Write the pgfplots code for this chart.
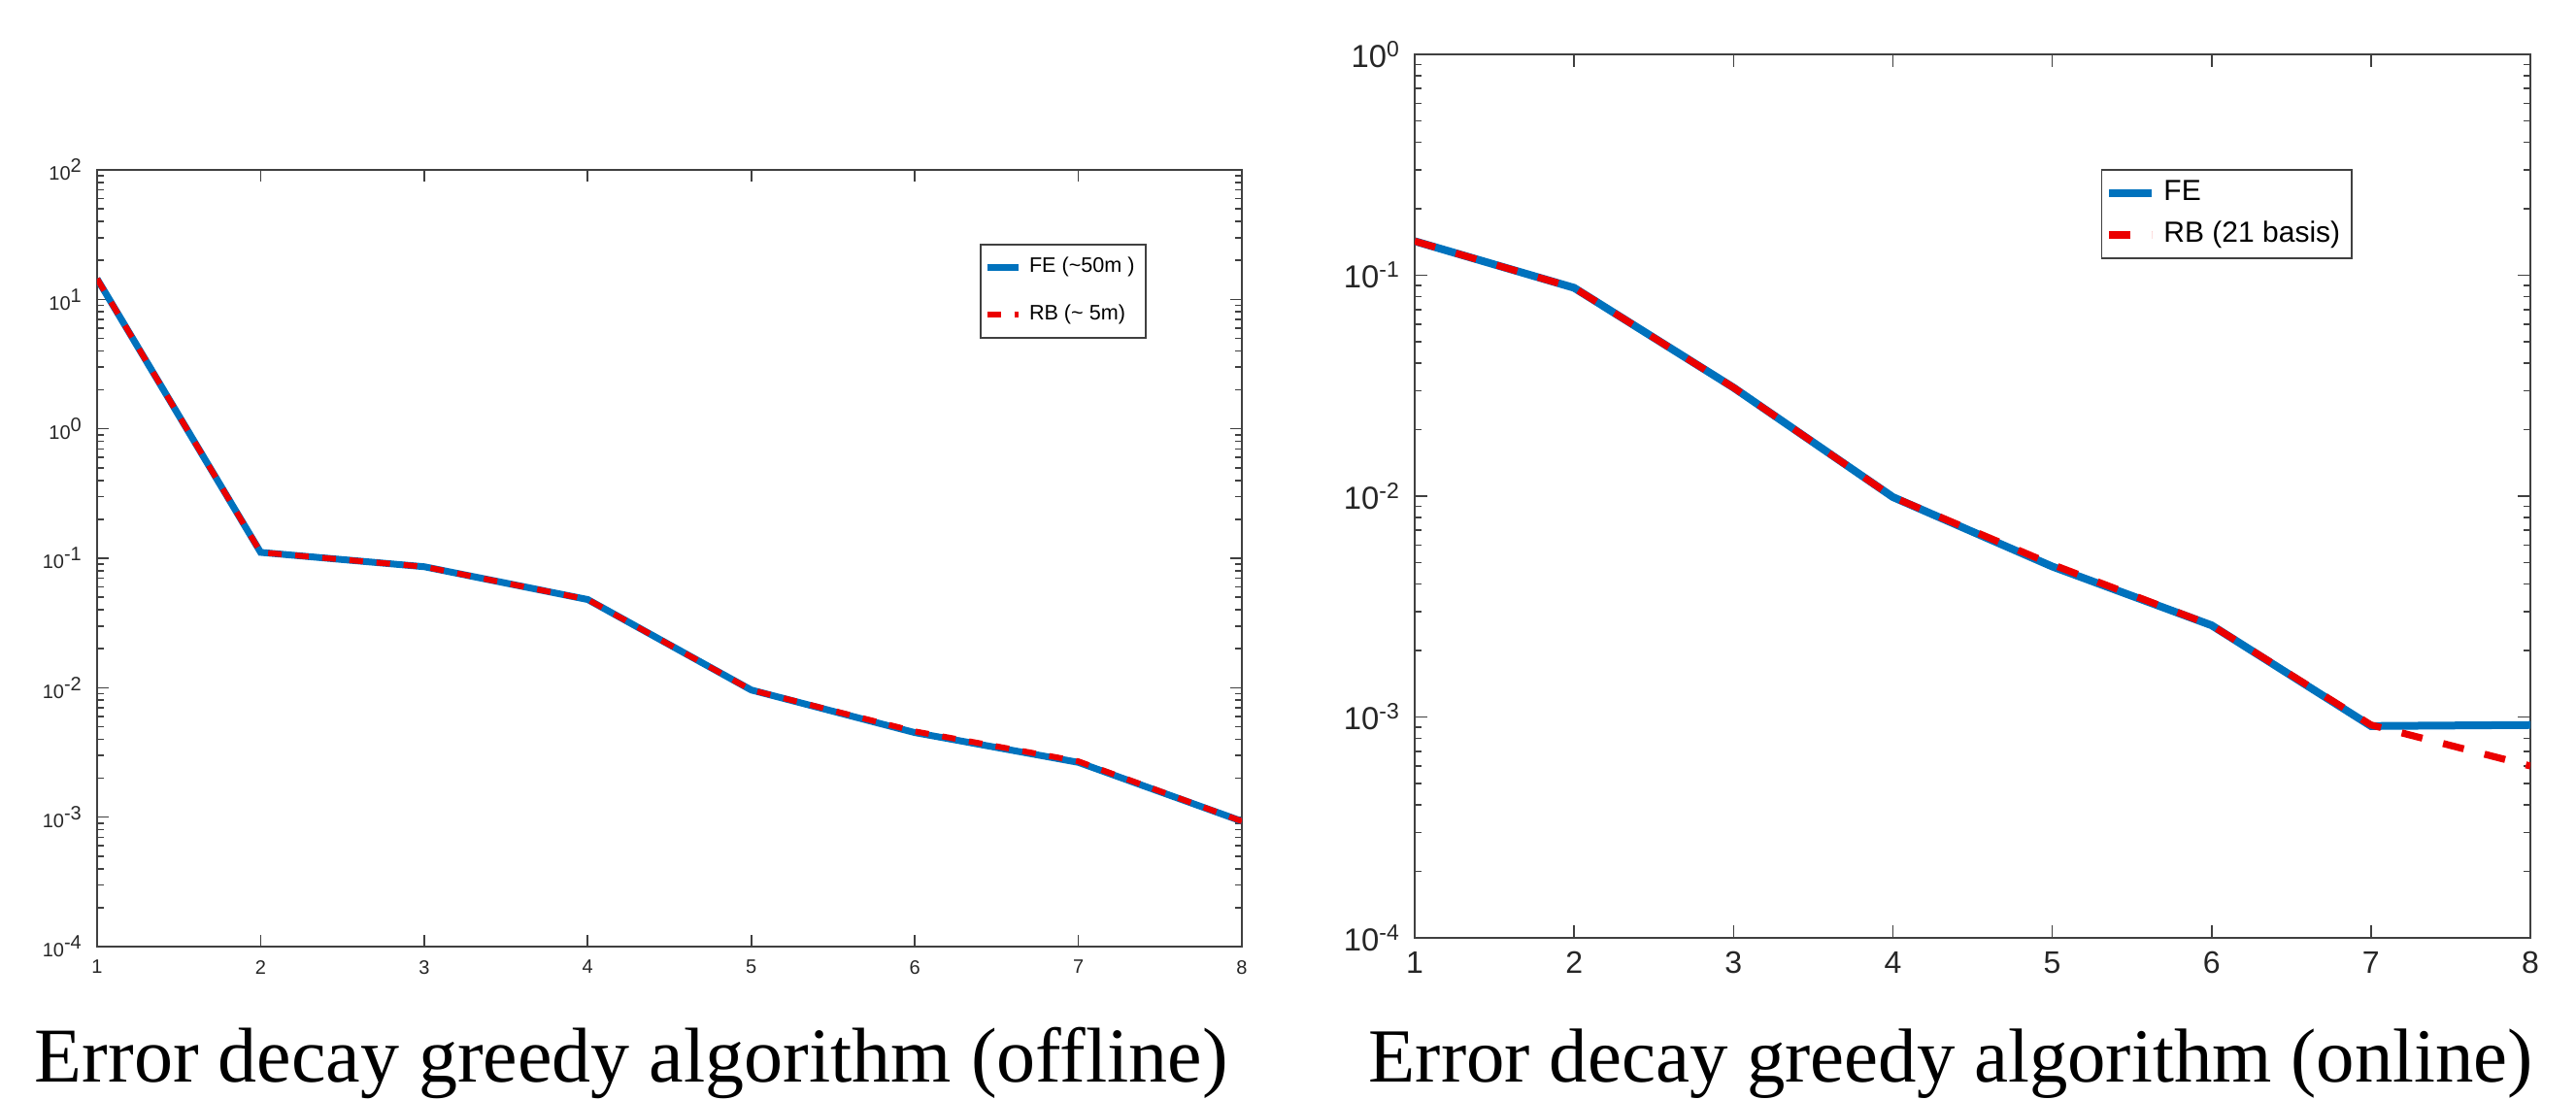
\documentclass[border=0pt]{standalone}
\usepackage{fontspec}
\setmainfont{Liberation Serif}
\setsansfont{Liberation Sans}
\usepackage{pgfplots}
\pgfplotsset{compat=1.18}
\definecolor{mblue}{RGB}{0,114,189}
\definecolor{mred}{RGB}{235,0,0}
\begin{document}
\begin{tikzpicture}
\useasboundingbox (0,0) rectangle (663.25pt,283.25pt);
% ---------------- left axis ----------------
\begin{axis}[
  at={(25pt,39.5pt)}, anchor=south west, scale only axis,
  width=294.75pt, height=200pt,
  ymode=log, xmin=1, xmax=8, ymin=1e-4, ymax=1e2,
  xtick={1,2,3,4,5,6,7,8},
  xticklabels={1,2,3,4,5,6,7,8},
  ytick={1e-4,1e-3,1e-2,1e-1,1,1e1,1e2},
  yticklabels={10\textsuperscript{-4},10\textsuperscript{-3},10\textsuperscript{-2},10\textsuperscript{-1},10\textsuperscript{0},10\textsuperscript{1},10\textsuperscript{2}},
  minor ytick={2e-4,3e-4,4e-4,5e-4,6e-4,7e-4,8e-4,9e-4,
    2e-3,3e-3,4e-3,5e-3,6e-3,7e-3,8e-3,9e-3,
    2e-2,3e-2,4e-2,5e-2,6e-2,7e-2,8e-2,9e-2,
    2e-1,3e-1,4e-1,5e-1,6e-1,7e-1,8e-1,9e-1,
    2,3,4,5,6,7,8,9,20,30,40,50,60,70,80,90},
  tick align=inside,
  major tick length=3pt, minor tick length=1.7pt,
  axis line style={black!75, line width=0.5pt},
  every tick/.style={black!75, line width=0.4pt},
  tick label style={font=\sffamily\fontsize{5}{6}\selectfont, black!85},
  legend style={at={(0.771,0.905)}, anchor=north west, draw=black!75, line width=0.4pt,
    font=\sffamily\fontsize{5.4}{6.2}\selectfont, row sep=2.8pt, inner xsep=0.8pt, inner ysep=1.2pt},
  legend cell align=left,
  legend image code/.code={\draw[#1] (0pt,0pt) -- (8pt,0pt);},
]
\addplot[mblue, line width=1.75pt] coordinates {
  (1,14.4) (2,0.111) (3,0.086) (4,0.048) (5,0.0096) (6,0.0045) (7,0.00265) (8,0.00093)};
\addlegendentry{FE (\textasciitilde50m )}
\addplot[mred, line width=1.5pt, dash pattern=on 3.5pt off 3.5pt] coordinates {
  (1,14.4) (2,0.111) (3,0.086) (4,0.048) (5,0.0096) (6,0.0046) (7,0.0027) (8,0.00093)};
\addlegendentry{RB (\textasciitilde{} 5m)}
\end{axis}
% ---------------- right axis ----------------
\begin{axis}[
  at={(364.25pt,41.75pt)}, anchor=south west, scale only axis,
  width=287.25pt, height=227.5pt,
  ymode=log, xmin=1, xmax=8, ymin=1e-4, ymax=1,
  xtick={1,2,3,4,5,6,7,8},
  xticklabels={1,2,3,4,5,6,7,8},
  ytick={1e-4,1e-3,1e-2,1e-1,1},
  yticklabels={10\textsuperscript{-4},10\textsuperscript{-3},10\textsuperscript{-2},10\textsuperscript{-1},10\textsuperscript{0}},
  minor ytick={2e-4,3e-4,4e-4,5e-4,6e-4,7e-4,8e-4,9e-4,
    2e-3,3e-3,4e-3,5e-3,6e-3,7e-3,8e-3,9e-3,
    2e-2,3e-2,4e-2,5e-2,6e-2,7e-2,8e-2,9e-2,
    2e-1,3e-1,4e-1,5e-1,6e-1,7e-1,8e-1,9e-1},
  tick align=inside,
  major tick length=3.2pt, minor tick length=1.8pt,
  axis line style={black!75, line width=0.5pt},
  every tick/.style={black!75, line width=0.4pt},
  yticklabel style={font=\sffamily\fontsize{8.2}{10}\selectfont, black!85},
  xticklabel style={font=\sffamily\fontsize{8}{10}\selectfont, black!85},
  legend style={at={(0.615,0.870)}, anchor=north west, draw=black!75, line width=0.4pt,
    font=\sffamily\fontsize{7.5}{9}\selectfont, row sep=0pt, inner xsep=1pt, inner ysep=0.6pt},
  legend cell align=left,
  legend image code/.code={\draw[#1] (0pt,0pt) -- (11pt,0pt);},
]
\addplot[mblue, line width=2pt] coordinates {
  (1,0.1426) (2,0.0877) (3,0.031) (4,0.0099) (5,0.0048) (6,0.0026) (7,0.00091) (8,0.00092)};
\addlegendentry{FE}
\addplot[mred, line width=1.8pt, dash pattern=on 5.5pt off 5.5pt] coordinates {
  (1,0.1426) (2,0.0877) (3,0.031) (4,0.0099) (5,0.0049) (6,0.0026) (7,0.00092) (8,0.0006)};
\addlegendentry{RB (21 basis)}
\end{axis}
% ---------------- captions ----------------
\node[anchor=base, font=\fontsize{20}{22}\selectfont, inner sep=0pt] at (162.6pt,4.6pt) {Error decay greedy algorithm (offline)};
\node[anchor=base, font=\fontsize{19.7}{22}\selectfont, inner sep=0pt] at (502.3pt,4.6pt) {Error decay greedy algorithm (online)};
\end{tikzpicture}
\end{document}
